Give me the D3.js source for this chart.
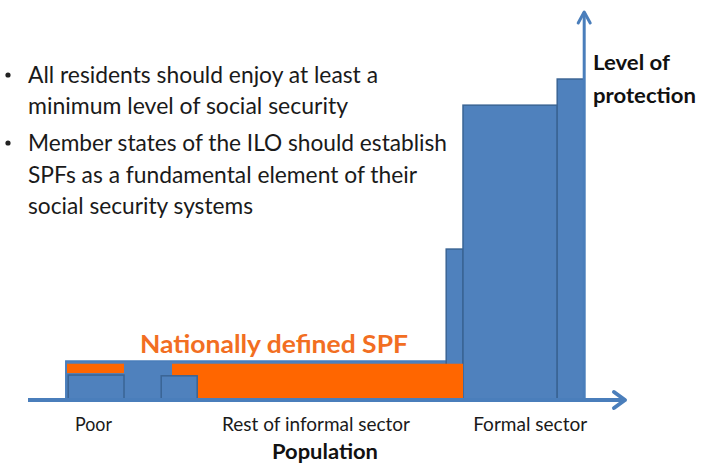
<!DOCTYPE html>
<html>
<head>
<meta charset="utf-8">
<script src="https://cdn.jsdelivr.net/npm/d3@7"></script>
<style>
  html, body { margin: 0; padding: 0; background: #fff; }
  text { font-family: Lato, "Open Sans", sans-serif; }
</style>
</head>
<body>
<div id="chart"></div>
<script>
// population (x) runs 0..100, level of protection (y) runs 0..100
var floorBar = [{ x0: 6.3, x1: 72.5, level: 10 }];
var informalBars = [
    { x0: 6.7, x1: 16, level: 6.4 },
    { x0: 22.2, x1: 28.2, level: 6.2 }
];
var formalBars = [
    { x0: 69.7, x1: 72.5, level: 38.7 },
    { x0: 72.5, x1: 88.2, level: 75.6 },
    { x0: 88.2, x1: 92.7, level: 82.3 }
];
var spfBlocks = [
    { x0: 6.5, x1: 16, from: 6.9, to: 9.3 },
    { x0: 24, x1: 72.5, from: 0, to: 9.3 }
];
var groupLabels = ["Poor", "Rest of informal sector", "Formal sector"];
var groupCenters = [10.9, 48, 83.7];
var groupWidths = [37, 188, 114];
var bullets = [
    ["All residents should enjoy at least a", "minimum level of social security"],
    ["Member states of the ILO should establish", "SPFs as a fundamental element of their", "social security systems"]
];
var bulletWidths = [[350, 320], [419, 389, 225]];

var width = 703, height = 469;
var blue = "#4F81BD", edge = "#3A6494", orange = "#FF6600", axisBlue = "#4A7EBB";

var svg = d3.select("#chart")
    .append("svg")
    .attr("width", width)
    .attr("height", height);

var x = d3.scaleLinear().domain([0, 100]).range([28, 628]);
var y = d3.scaleLinear().domain([0, 100]).range([400, 10]);

function bars(data, fill, stroke) {
    svg.append("g").selectAll("rect")
        .data(data)
        .enter()
        .append("rect")
        .attr("x", function (d) { return x(d.x0); })
        .attr("y", function (d) { return y(d.level); })
        .attr("width", function (d) { return x(d.x1) - x(d.x0); })
        .attr("height", function (d) { return y(0) - y(d.level); })
        .attr("fill", fill)
        .attr("stroke", stroke)
        .attr("stroke-width", 1.5);
}

bars(floorBar, blue, axisBlue);
bars(formalBars, blue, edge);

svg.append("g").selectAll("rect")
    .data(spfBlocks)
    .enter()
    .append("rect")
    .attr("x", function (d) { return x(d.x0); })
    .attr("y", function (d) { return y(d.to); })
    .attr("width", function (d) { return x(d.x1) - x(d.x0); })
    .attr("height", function (d) { return y(d.from) - y(d.to); })
    .attr("fill", orange);

bars(informalBars, blue, edge);

// axes with open arrow heads
svg.append("line")
    .attr("x1", x(0)).attr("y1", y(0))
    .attr("x2", x(99.5)).attr("y2", y(0))
    .attr("stroke", axisBlue).attr("stroke-width", 4);
svg.append("path")
    .attr("d", "M" + (x(99.5) - 11) + "," + (y(0) - 8) + "L" + x(99.5) + "," + y(0) + "L" + (x(99.5) - 11) + "," + (y(0) + 8))
    .attr("fill", "none").attr("stroke", axisBlue).attr("stroke-width", 4)
    .attr("stroke-linecap", "round").attr("stroke-linejoin", "round");

svg.append("line")
    .attr("x1", x(92.7)).attr("y1", y(0))
    .attr("x2", x(92.7)).attr("y2", y(99.5))
    .attr("stroke", axisBlue).attr("stroke-width", 3);
svg.append("path")
    .attr("d", "M" + (x(92.7) - 6) + "," + (y(99.5) + 11) + "L" + x(92.7) + "," + y(99.5) + "L" + (x(92.7) + 6) + "," + (y(99.5) + 11))
    .attr("fill", "none").attr("stroke", axisBlue).attr("stroke-width", 3)
    .attr("stroke-linecap", "round").attr("stroke-linejoin", "round");

// group labels under the axis
svg.append("g").selectAll("text")
    .data(groupLabels)
    .enter()
    .append("text")
    .text(function (d) { return d; })
    .attr("x", function (d, i) { return x(groupCenters[i]); })
    .attr("y", 431)
    .attr("text-anchor", "middle")
    .attr("textLength", function (d, i) { return groupWidths[i]; })
    .attr("lengthAdjust", "spacingAndGlyphs")
    .attr("font-size", 19)
    .attr("fill", "#1a1a1a");

svg.append("text")
    .text("Population")
    .attr("x", 325).attr("y", 459)
    .attr("text-anchor", "middle")
    .attr("textLength", 106).attr("lengthAdjust", "spacingAndGlyphs")
    .attr("font-size", 21).attr("font-weight", "bold")
    .attr("fill", "#111");

svg.append("text")
    .text("Level of")
    .attr("x", 593).attr("y", 70)
    .attr("textLength", 77).attr("lengthAdjust", "spacingAndGlyphs")
    .attr("font-size", 20).attr("font-weight", "bold")
    .attr("fill", "#111");
svg.append("text")
    .text("protection")
    .attr("x", 593).attr("y", 103)
    .attr("textLength", 103).attr("lengthAdjust", "spacingAndGlyphs")
    .attr("font-size", 20).attr("font-weight", "bold")
    .attr("fill", "#111");

svg.append("text")
    .text("Nationally defined SPF")
    .attr("x", 140).attr("y", 353)
    .attr("textLength", 268).attr("lengthAdjust", "spacingAndGlyphs")
    .attr("font-size", 25).attr("font-weight", "bold")
    .attr("fill", "#F26E22");

// bullet list
var baselines = [[83, 114], [151, 183, 214]];
bullets.forEach(function (lines, b) {
    svg.append("circle")
        .attr("cx", 8).attr("cy", baselines[b][0] - 8)
        .attr("r", 2.6).attr("fill", "#222");
    lines.forEach(function (line, i) {
        svg.append("text")
            .text(line)
            .attr("x", 28).attr("y", baselines[b][i])
            .attr("textLength", bulletWidths[b][i])
            .attr("lengthAdjust", "spacingAndGlyphs")
            .attr("font-size", 23)
            .attr("fill", "#1a1a1a");
    });
});
</script>
</body>
</html>
